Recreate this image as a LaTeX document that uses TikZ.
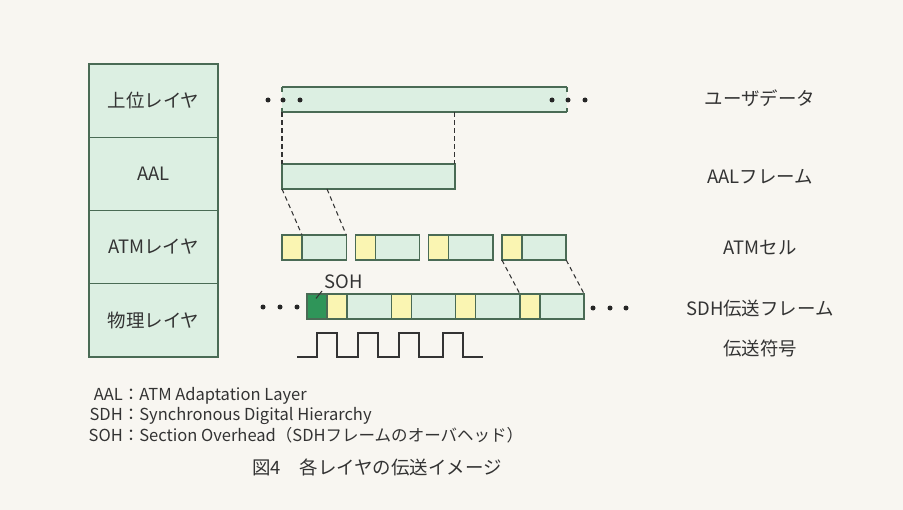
\documentclass[tikz,border=0pt]{standalone}
\usepackage{fontspec}
\setmainfont{Noto Sans CJK JP}
\usetikzlibrary{positioning, calc}
\definecolor{cpaper}{HTML}{F8F6F1}
\definecolor{cpale}{HTML}{DCEFE2}
\definecolor{cedge}{HTML}{4A6B55}
\definecolor{cyel}{HTML}{FAF5B2}
\definecolor{csoh}{HTML}{2F9559}
\definecolor{cink}{HTML}{333333}
\tikzset{
  every picture/.style={line width=0.8pt, text=cink},
  layer/.style={draw=cedge, fill=cpale, minimum width=2.58cm, minimum height=1.465cm, inner sep=0pt, outer sep=0pt, font=\fontsize{10.5}{12}\selectfont},
  seg/.style={draw=cedge, fill=#1, minimum height=0.5cm, inner sep=0pt, outer sep=0pt, anchor=north west},
  seg/.default=cpale,
  hdr/.style={seg=cyel, minimum width=0.4cm},
  pay/.style={seg=cpale, minimum width=0.886cm, anchor=west},
  tag/.style={font=\fontsize{10.5}{12}\selectfont},
  guide/.style={draw=cink, line width=0.6pt, dash pattern=on 2.6pt off 2pt},
  dot/.style={fill=black!85},
}

\begin{document}
\begin{tikzpicture}[x=0.02cm, y=-0.02cm]
  \useasboundingbox (0,0) rectangle (903,510);
  \fill[cpaper] (0,0) rectangle (903,510);
  % layer stack
  \node[layer] (upper) at (153.5,100.6) {上位レイヤ};
  \node[layer, below=0pt of upper] (aallay) {AAL};
  \node[layer, below=0pt of aallay] (atmlay) {ATMレイヤ};
  \node[layer, below=0pt of atmlay] (phylay) {物理レイヤ};
  % user data
  \node[seg, draw=none, minimum width=5.7cm] (ud) at (282,87) {};
  \draw[cedge] (ud.north west) -- (ud.north east) (ud.south west) -- (ud.south east);
  \draw[cedge] (ud.north west) -- ++(0,5) (ud.south west) -- ++(0,-4)
               (ud.north east) -- ++(0,5) (ud.south east) -- ++(0,-4);
  \foreach \x in {268,283,300} \fill[dot] (\x,100) circle (0.05cm);
  \foreach \x in {552,568,585} \fill[dot] (\x,100) circle (0.05cm);
  % AAL frame
  \node[seg, minimum width=3.46cm] (aal) at (282,164) {};
  \draw[guide] (ud.south west) -- (aal.north west);
  \draw[guide] (aal.north east |- ud.south) -- (aal.north east);
  \coordinate (aalcut) at ($(aal.south west)+(45,0)$);
  % ATM cells
  \foreach \k in {1,...,4} {
    \node[hdr] (h\k) at ({282+73.3*(\k-1)},235) {};
    \node[pay, right=0pt of h\k] (p\k) {};
  }
  \draw[guide] (aal.south west) -- (p1.north west);
  \draw[guide] (aalcut) -- (p1.north east);
  % SDH frame
  \node[seg=csoh, minimum width=0.4cm] (soh) at (307,294) {};
  \foreach \k in {1,...,4} {
    \node[hdr] (s\k) at ({327+64.3*(\k-1)},294) {};
    \node[pay, right=0pt of s\k] (q\k) {};
  }
  \draw[guide] (h4.south west) -- (s4.north west);
  \draw[guide] (p4.south east) -- (q4.north east);
  \foreach \x in {263,280,297} \fill[dot] (\x,307) circle (0.05cm);
  \foreach \x in {593,610,626} \fill[dot] (\x,308) circle (0.05cm);
  \node[tag, anchor=south west, inner sep=1pt] (sohlbl) at (322,291) {SOH};
  \draw[cink, line width=0.6pt] ($(soh.center)+(-1,-8)$) -- (sohlbl.south west);
  % line code
  \draw[cink, line width=0.7pt] (297,357)
    foreach \x in {317,358,399,443} { -- (\x,357) -- (\x,333) -- ({\x+20},333) -- ({\x+20},357) }
    -- (483,357);
  % right labels
  \node[tag] (lud) at (760,98) {ユーザデータ};
  \node[tag] (laal) at (760,177) {AALフレーム};
  \node[tag] (latm) at (760,248) {ATMセル};
  \node[tag] (lsdh) at (760,308) {SDH伝送フレーム};
  \node[tag] (lcode) at (760,348) {伝送符号};
  % legend and caption
  \node[anchor=base west, inner sep=0pt, font=\fontsize{9.4}{11.9}\selectfont] (legend) at (88,400)
    {\begin{tabular}[t]{@{}r@{}l@{}}
      AAL & ：ATM Adaptation Layer\\
      SDH & ：Synchronous Digital Hierarchy\\
      SOH & ：Section Overhead（SDHフレームのオーバヘッド）
    \end{tabular}};
  \node[font=\fontsize{10.5}{12}\selectfont] (title) at (377,467) {図4\hspace{1em}各レイヤの伝送イメージ};
\end{tikzpicture}
\end{document}
